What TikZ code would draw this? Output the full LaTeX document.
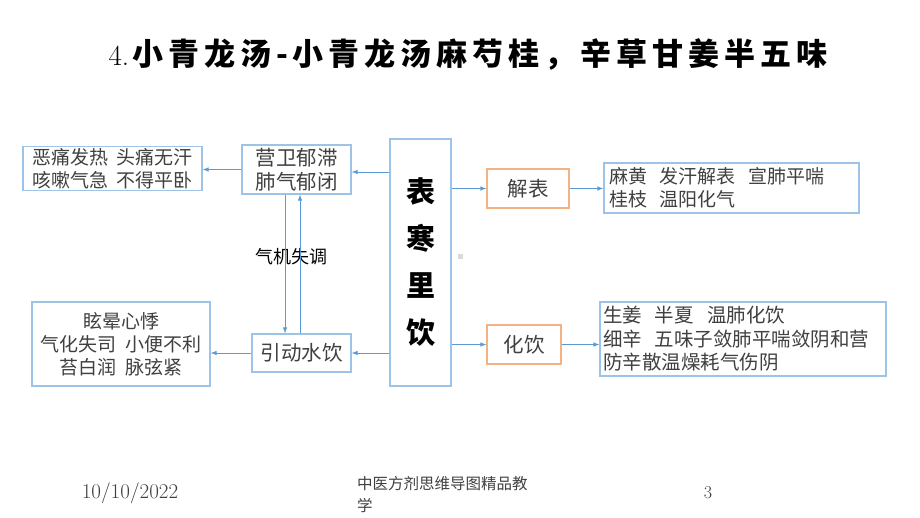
\documentclass[tikz,border=0pt]{standalone}
\usepackage{fontspec}
\newfontfamily\cjk{Noto Sans CJK SC}
\newfontfamily\cjktitle[LetterSpace=16]{Noto Sans CJK SC}
\usetikzlibrary{positioning,calc,arrows.meta}

\definecolor{boxblue}{RGB}{157,195,230}
\definecolor{arrblue}{RGB}{91,155,213}
\definecolor{boxorange}{RGB}{244,177,131}
\definecolor{txtgray}{RGB}{64,64,64}

\tikzset{
  box/.style={draw=boxblue, line width=1.2pt, inner sep=2pt, text=txtgray,
    font=\cjk\fontsize{19}{23}\selectfont},
  sbox/.style={box, font=\cjk\fontsize{20.5}{24}\selectfont},
  obox/.style={sbox, draw=boxorange},
  arr/.style={-{Latex[length=6pt,width=4.5pt]}, arrblue, line width=0.8pt}
}

\begin{document}
\begin{tikzpicture}[x=1pt,y=-1pt]
    \useasboundingbox[fill=white] (0,0) rectangle (920,518);

    % title
    \node (title) at (468,54) {\fontsize{29}{34}\selectfont 4.\hspace{3pt}{\cjktitle\bfseries\fontsize{31}{34}\selectfont 小青龙汤-小青龙汤麻芍桂，辛草甘姜半五味}};

    % middle column
    \node[box, minimum width=61, minimum height=247, align=center,
      font=\cjk\bfseries\fontsize{29}{47}\selectfont, text=black] (big) at (420.5,262.5) {\raisebox{-3pt}{表}\\\raisebox{-3pt}{寒}\\\raisebox{-3pt}{里}\\\raisebox{-3pt}{饮}};

    % left side
    \node[sbox, minimum width=109, minimum height=49, align=center] (yingwei) at (296.5,169.5) {营卫郁滞\\肺气郁闭};
    \node[box, minimum width=179, minimum height=41, align=left] (lt) at (112.5,168.5) {恶痛发热~~头痛无汗\\咳嗽气急~~不得平卧};
    \node[sbox, minimum width=99, minimum height=38] (yindong) at (301.5,353) {引动水饮};
    \node[box, minimum width=178, minimum height=84, align=center] (lb) at (121,344) {眩晕心悸\\气化失司~~小便不利\\苔白润~~脉弦紧};
    \node[font=\cjk\fontsize{18}{20}\selectfont] (qiji) at (291,257) {气机失调};

    % right side
    \node[obox, minimum width=82, minimum height=39] (jiebiao) at (528,188.5) {解表};
    \node[box, minimum width=255, minimum height=50, align=left, text width=245] (rt) at (731.5,188) {麻黄~~发汗解表~~宣肺平喘\\桂枝~~温阳化气};
    \node[obox, minimum width=74, minimum height=39] (huayin) at (524,344.5) {化饮};
    \node[box, minimum width=286, minimum height=74, align=left, text width=280,
      font=\cjk\fontsize{19.5}{23.5}\selectfont] (rb) at (743,339) {生姜~~半夏~~温肺化饮\\细辛~~五味子敛肺平喘敛阴和营\\防辛散温燥耗气伤阴};

    \fill[black!15] (458,254) rectangle (463,259);

    \coordinate (qa) at (285,0);
    \coordinate (qb) at (300,0);

    \draw[arr] (big.west |- 0,172) -- (yingwei.east |- 0,172);
    \draw[arr] (yingwei.west) -- (yingwei.west -| lt.east);
    \draw[arr] (yingwei.south -| qa) -- (yindong.north -| qa);
    \draw[arr] (yindong.north -| qb) -- (yingwei.south -| qb);
    \draw[arr] (big.west |- yindong) -- (yindong.east);
    \draw[arr] (yindong.west) -- (yindong.west -| lb.east);

    \draw[arr] (big.east |- jiebiao) -- (jiebiao.west);
    \draw[arr] (jiebiao.east) -- (jiebiao.east -| rt.west);
    \draw[arr] (big.east |- huayin) -- (huayin.west);
    \draw[arr] (huayin.east) -- (huayin.east -| rb.west);

    % footer
    \node[text=txtgray, font=\fontsize{21}{24}\selectfont] (date) at (130,493) {10/10/2022};
    \node[text=txtgray, anchor=north west, align=left, inner sep=0pt,
      font=\cjk\fontsize{15.5}{22}\selectfont] (foot) at (357,476) {中医方剂思维导图精品教\\学};
    \node[text=txtgray, font=\fontsize{18}{20}\selectfont] (page) at (708,493) {3};
\end{tikzpicture}
\end{document}
